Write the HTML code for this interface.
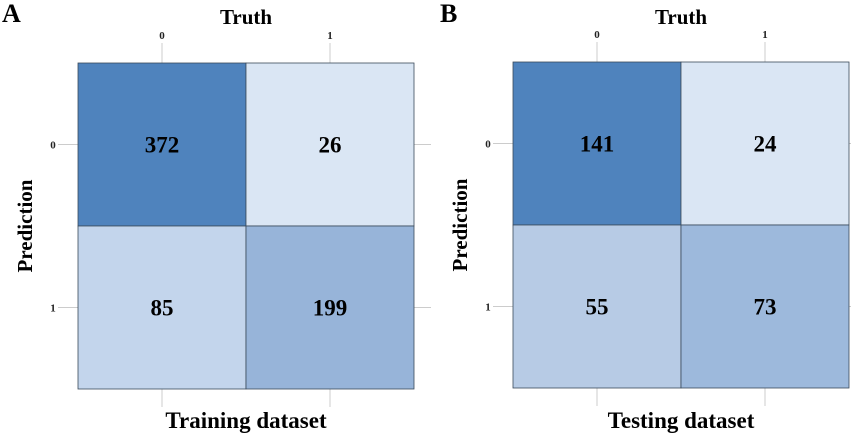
<!DOCTYPE html>
<html><head><meta charset="utf-8"><style>
html,body{margin:0;padding:0;background:#fff;}
svg{display:block;font-family:"Liberation Serif",serif;}
</style></head><body>
<svg id="chart" width="851" height="436" viewBox="0 0 851 436"></svg>
<script>
const truthLabels = ["0","1"];
const predLabels = ["0","1"];
const trainValues = [[372,26],[85,199]];
const testValues = [[141,24],[55,73]];
const trainColors = [["#4f83bd","#dae6f4"],["#c3d5ec","#97b4d9"]];
const testColors = [["#4f83bd","#dae6f4"],["#b7cbe5","#9db9dc"]];
const panelLetters = ["A","B"];
const panelTitles = ["Training dataset","Testing dataset"];

const NS="http://www.w3.org/2000/svg";
const svg=document.getElementById('chart');
function mk(tag,attrs,parent){const e=document.createElementNS(NS,tag);for(const k in attrs)e.setAttribute(k,attrs[k]);(parent||svg).appendChild(e);return e;}

const panels=[{x0:78,x1:414,y0:63,y1:389,vals:trainValues,cols:trainColors},
              {x0:513,x1:849,y0:62,y1:388,vals:testValues,cols:testColors}];

panels.forEach((p,pi)=>{
  const g=mk('g',{});
  
  
  const n=truthLabels.length;
  const cw=(p.x1-p.x0)/n, ch=(p.y1-p.y0)/predLabels.length;
  const xc=i=>p.x0+cw*(i+0.5), yc=j=>p.y0+ch*(j+0.5);
  // tick lines
  truthLabels.forEach((t,i)=>{
    const l1=mk('line',{x1:xc(i),x2:xc(i),y1:p.y0-20,y2:p.y0,stroke:'#ccc','stroke-width':1},g);
    
    
    const l2=mk('line',{x1:xc(i),x2:xc(i),y1:p.y1,y2:p.y1+18,stroke:'#ccc','stroke-width':1},g);
    
    
    const tx=mk('text',{x:xc(i),y:p.y0-24,'text-anchor':'middle','font-size':11,'font-weight':'bold',fill:'#222'},g);
    tx.textContent=t;
    
    
  });
  predLabels.forEach((t,j)=>{
    const l1=mk('line',{x1:p.x0-20,x2:p.x0,y1:yc(j),y2:yc(j),stroke:'#ccc','stroke-width':1},g);
    
    
    const l2=mk('line',{x1:p.x1,x2:p.x1+17,y1:yc(j),y2:yc(j),stroke:'#ccc','stroke-width':1},g);
    
    
    const tx=mk('text',{x:p.x0-25,y:yc(j)+4,'text-anchor':'middle','font-size':11,'font-weight':'bold',fill:'#222'},g);
    tx.textContent=t;
    
    
  });
  // cells
  p.vals.forEach((row,j)=>row.forEach((v,i)=>{
    const r=mk('rect',{x:p.x0+cw*i,y:p.y0+ch*j,width:cw,height:ch,fill:p.cols[j][i],stroke:'#3a4a5a','stroke-width':0.8},g);
    
    
    const tx=mk('text',{x:xc(i),y:yc(j)+8,'text-anchor':'middle','font-size':23,'font-weight':'bold',fill:'#000'},g);
    tx.textContent=v;
    
    
  }));
  const mid=(p.x0+p.x1)/2;
  const tt=mk('text',{x:mid,y:24,'text-anchor':'middle','font-size':21,'font-weight':'bold',fill:'#000'},g);
  tt.textContent='Truth';
  
  
  const bt=mk('text',{x:mid,y:428,'text-anchor':'middle','font-size':23,'font-weight':'bold',fill:'#000'},g);
  bt.textContent=panelTitles[pi];
  
  
  const ym=(p.y0+p.y1)/2, px=p.x0-46;
  const pt=mk('text',{x:px,y:ym,'text-anchor':'middle','font-size':21,'font-weight':'bold',fill:'#000',transform:'rotate(-90 '+px+' '+ym+')'},g);
  pt.textContent='Prediction';
  
  
  const lt=mk('text',{x:pi===0?2:440,y:22,'font-size':26,'font-weight':'bold',fill:'#000'},g);
  lt.textContent=panelLetters[pi];
  
  
});
</script>
</body></html>
